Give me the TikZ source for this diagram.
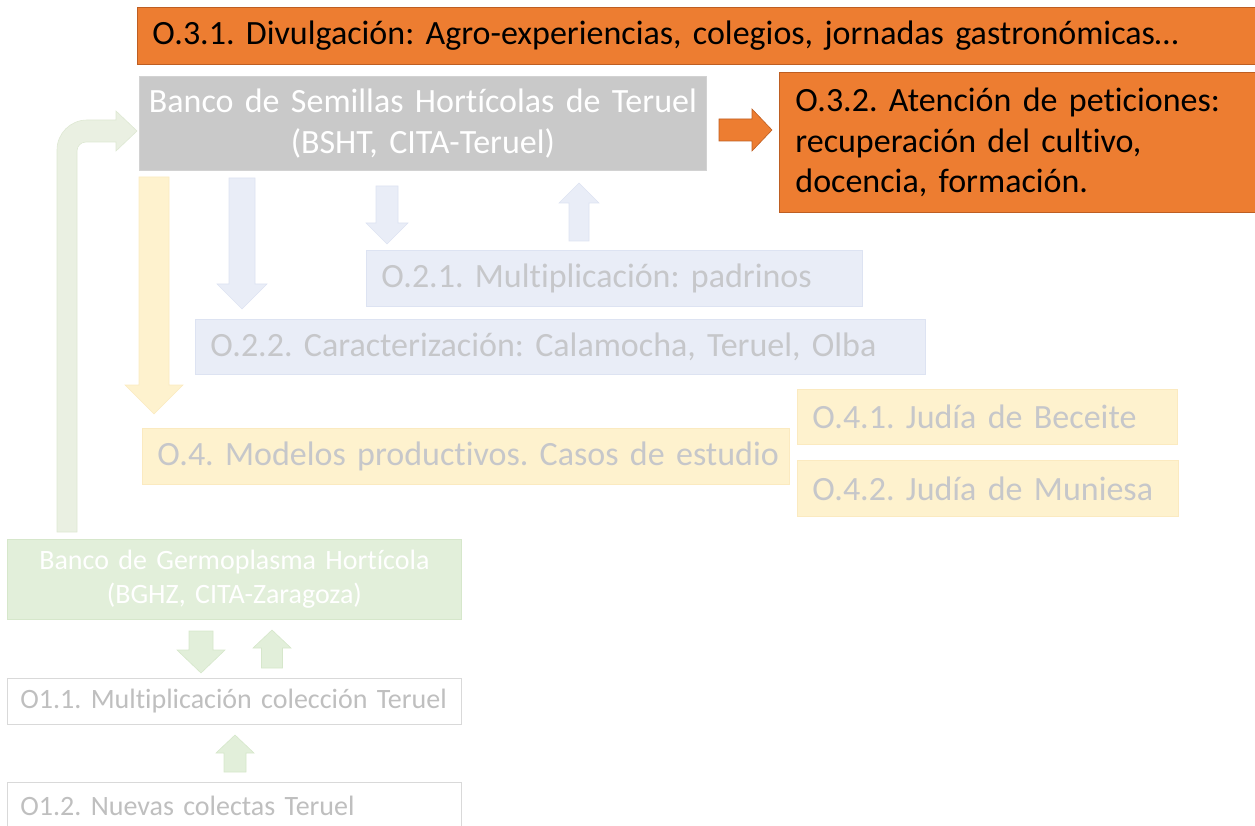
\documentclass[tikz,border=0pt]{standalone}
\usepackage{fontspec}
\setmainfont[Ligatures=NoCommon]{Carlito}
\definecolor{orfill}{HTML}{ED7D31}
\definecolor{ordraw}{HTML}{BE5E22}
\definecolor{gyfill}{HTML}{C9C9C9}
\definecolor{gydraw}{HTML}{D2D2D2}
\definecolor{blfill}{HTML}{E9EDF7}
\definecolor{bldraw}{HTML}{DDE3F2}
\definecolor{yefill}{HTML}{FEF2CE}
\definecolor{yedraw}{HTML}{FBEAC0}
\definecolor{grfill}{HTML}{E2EFDA}
\definecolor{grdraw}{HTML}{D6E7CB}
\definecolor{lgfill}{HTML}{EAF0E2}
\definecolor{lgdraw}{HTML}{DEE8D3}
\definecolor{fadetext}{HTML}{C6C7CA}
\definecolor{otext}{HTML}{BFBFBF}
\definecolor{odraw}{HTML}{D9D9D9}
\newcommand{\varr}[7]{\filldraw[#1] (#2-#3,#5) -- (#2-#3,#6) -- (#2-#4,#6) -- (#2,#7) -- (#2+#4,#6) -- (#2+#3,#6) -- (#2+#3,#5) -- cycle;}
\newcommand{\harr}[7]{\filldraw[#1] (#5,#2-#3) -- (#6,#2-#3) -- (#6,#2-#4) -- (#7,#2) -- (#6,#2+#4) -- (#6,#2+#3) -- (#5,#2+#3) -- cycle;}
\newcommand{\fixsp}{\frenchspacing\spaceskip=0.85\fontdimen2\font\relax\hyphenpenalty=10000\relax}
\newcommand{\bigf}{\fontsize{34}{40.8}\selectfont\fixsp}
\newcommand{\smallf}{\fontsize{28}{34}\selectfont\fixsp}
\newcommand{\ind}[1]{\hspace*{#1pt}}
\begin{document}
\frenchspacing
\begin{tikzpicture}[x=1pt,y=-1pt,
  box/.style={draw, line width=0.8pt, inner ysep=0pt, anchor=north west},
  lbox/.style={box, align=left, inner xsep=0pt},
  orbox/.style={lbox, fill=orfill, draw=ordraw, text=black, font=\bigf},
  blbox/.style={lbox, fill=blfill, draw=bldraw, text=fadetext, font=\bigf},
  yebox/.style={lbox, fill=yefill, draw=yedraw, text=fadetext, font=\bigf},
  whbox/.style={lbox, fill=white, draw=odraw, text=otext, font=\smallf},
  blarr/.style={fill=blfill, draw=bldraw, line width=0.6pt},
  yearr/.style={fill=yefill, draw=yedraw, line width=0.6pt},
  grarr/.style={fill=grfill, draw=grdraw, line width=0.6pt},
  lgarr/.style={fill=lgfill, draw=lgdraw, line width=0.6pt},
  orarr/.style={fill=orfill, draw=ordraw, line width=0.6pt}]
\useasboundingbox (0,0) rectangle (1255,826);

% bent green arrow from BGHZ to BSHT
\filldraw[lgarr] (57,532) [rounded corners=30pt] -- (57,120) [sharp corners] -- (116,120) -- (116,111) -- (137,131) -- (116,151) -- (116,142) [rounded corners=9pt] -- (77,142) [sharp corners] -- (77,532) -- cycle;

% boxes
\node[orbox, minimum width=1130, minimum height=57, text width=1130] (o31) at (137,7)
  {\ind{15}O.3.1. Divulgación: Agro-experiencias, colegios, jornadas gastronómicas…};
\node[box, fill=gyfill, draw=gydraw, text=white, font=\bigf, align=center,
  minimum width=567, minimum height=94, text width=560, inner xsep=3pt] (bsht) at (139,76)
  {Banco de Semillas Hortícolas de Teruel\\(BSHT, CITA-Teruel)};
\node[orbox, minimum width=488, minimum height=140, text width=488] (o32) at (779,72)
  {\ind{16}O.3.2. Atención de peticiones:\\\ind{16}recuperación del cultivo,\\\ind{16}docencia, formación.};
\node[blbox, minimum width=496, minimum height=56, text width=496] (o21) at (366,250)
  {\ind{15}O.2.1. Multiplicación: padrinos};
\node[blbox, minimum width=730, minimum height=55, text width=730] (o22) at (195,319)
  {\ind{15}O.2.2. Caracterización: Calamocha, Teruel, Olba};
\node[yebox, minimum width=647, minimum height=56, text width=647] (o4) at (142,428)
  {\ind{15}O.4. Modelos productivos. Casos de estudio};
\node[yebox, minimum width=380, minimum height=55, text width=380] (o41) at (797,389)
  {\ind{15}O.4.1. Judía de Beceite};
\node[yebox, minimum width=381, minimum height=56, text width=381] (o42) at (797,460)
  {\ind{15}O.4.2. Judía de Muniesa};
\node[box, fill=grfill, draw=grdraw, text=white, font=\smallf, align=center,
  minimum width=454, minimum height=80, text width=448, inner xsep=3pt] (bghz) at (7,539)
  {Banco de Germoplasma Hortícola\\(BGHZ, CITA-Zaragoza)};
\node[whbox, minimum width=454, minimum height=46, text width=454] (o11) at (7,678)
  {\ind{13}O1.1. Multiplicación colección Teruel};
\node[whbox, minimum width=454, minimum height=46, text width=454] (o12) at (7,782)
  {\ind{13}O1.2. Nuevas colectas Teruel};

% arrows
\harr{orarr}{130}{11}{21}{719}{752}{772}
\varr{yearr}{154}{15}{29}{177}{385}{414}
\varr{blarr}{242}{13}{25}{178}{284}{309}
\varr{blarr}{387}{11}{21}{186}{223}{244}
\varr{blarr}{579}{10}{20}{241}{203}{183}
\varr{grarr}{201}{12}{24}{631}{650}{673}
\varr{grarr}{272}{10.5}{19}{668}{648}{630}
\varr{grarr}{235}{11}{19}{772}{753}{735}
\end{tikzpicture}
\end{document}
